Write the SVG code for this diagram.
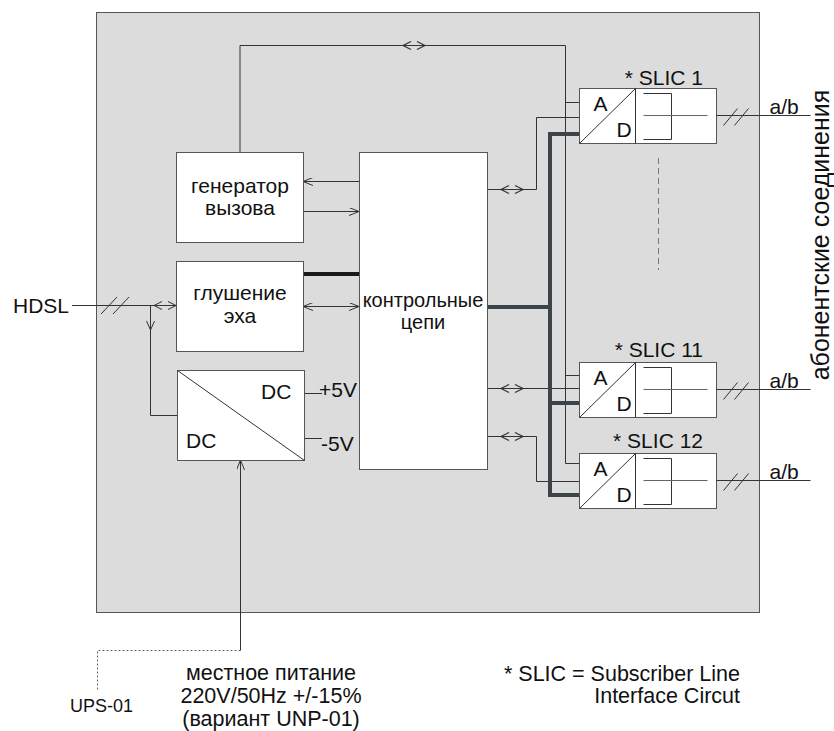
<svg xmlns="http://www.w3.org/2000/svg" xmlns:xlink="http://www.w3.org/1999/xlink" width="834" height="731" viewBox="0 0 834 731">
<style>
.t{font-family:"Liberation Sans",Arial,sans-serif;font-size:21px;fill:#111}
.b{font-size:21.5px}
.box{fill:#fff;stroke:#555;stroke-width:1}
.ln{fill:none;stroke:#333;stroke-width:1}
.gl{fill:none;stroke:#666;stroke-width:1}
.bus{fill:none;stroke:#3d4447;stroke-width:4}
</style>
<defs>
<marker id="ah" viewBox="0 0 10 8" refX="10" refY="4" markerWidth="10" markerHeight="8" markerUnits="userSpaceOnUse" orient="auto-start-reverse"><path d="M0,0 L10,4 L0,8" fill="none" stroke="#333" stroke-width="1"/></marker>
<g id="dbl"><path d="M-3,-4 L-11,0 L-3,4 M3,-4 L11,0 L3,4" fill="none" stroke="#333" stroke-width="1.2"/></g>
<g id="slic">
<rect class="box" x="0" y="0" width="137" height="55"/>
<path class="ln" d="M56,0 V55 M0,55 L56,0"/>
<path class="ln" d="M64,5 H92 V51 H64"/>
<path class="gl" d="M64,27 H128"/>
<path class="ln" d="M137,27 H231 M144,37 L158,20 M155,37 L169,20"/>
<text class="t" x="14" y="22">A</text>
<text class="t" x="37" y="48">D</text>
<text class="t" x="190" y="25">a/b</text>
</g>
</defs>
<rect id="panel" x="96.5" y="12.5" width="663" height="600" fill="#dcdcdc" stroke="#555" stroke-width="1"/>
<g id="connectors">
<path class="ln" d="M240,152 V45.5 H565.5 V463.5 H579"/>
<path class="ln" d="M565.5,102.5 H579 M565.5,375.5 H579"/>
<use xlink:href="#dbl" x="414" y="45.5"/>
<path class="ln" d="M487,189.5 H536.5 V117.5 H579"/>
<use xlink:href="#dbl" x="512" y="189.5"/>
<path class="ln" d="M487,388.5 H579"/>
<use xlink:href="#dbl" x="512" y="388.5"/>
<path class="ln" d="M487,436.5 H536.5 V481.5 H579"/>
<use xlink:href="#dbl" x="512" y="436.5"/>
<path class="bus" d="M579,134 H550 V495 H579 M550,403 H579 M487,307 H550"/>
<path class="ln" d="M359,181.5 H303" marker-end="url(#ah)"/>
<path class="ln" d="M303,211.5 H359" marker-end="url(#ah)"/>
<path d="M303,274 H359" fill="none" stroke="#1a1a1a" stroke-width="4"/>
<path class="ln" d="M303,306.5 H359" marker-start="url(#ah)" marker-end="url(#ah)"/>
<path class="ln" d="M72,305.5 H176 M101,314 L117,297 M113,314 L129,297"/>
<path class="ln" d="M162,301.5 L154,305.5 L162,309.5 M168,301.5 L176,305.5 L168,309.5"/>
<path class="ln" d="M150.5,305.5 V415.5 H177"/>
<path class="ln" d="M146.5,321 L150.5,330 L154.5,321"/>
<path class="ln" d="M304,393.5 H322 M304,438.5 H322"/>
<path class="ln" d="M240.5,650.5 V460" marker-end="url(#ah)"/>
<path d="M240.5,650.5 H97.5 V690" fill="none" stroke="#666" stroke-width="1" stroke-dasharray="2,2"/>
<path d="M658.5,158 V270" fill="none" stroke="#777" stroke-width="1" stroke-dasharray="6,4"/>
</g>
<g id="generator">
<rect class="box" x="176.5" y="152.5" width="127" height="90"/>
<text class="t" x="240" y="193" text-anchor="middle">генератор</text>
<text class="t" x="240" y="215" text-anchor="middle">вызова</text>
</g>
<g id="echo">
<rect class="box" x="176.5" y="261.5" width="127" height="90"/>
<text class="t" x="240" y="300" text-anchor="middle">глушение</text>
<text class="t" x="240" y="323" text-anchor="middle">эха</text>
</g>
<g id="dcdc">
<rect class="box" x="177.5" y="370.5" width="127" height="90"/>
<path class="ln" d="M177.5,370.5 L304.5,460.5"/>
<text class="t" x="261" y="399">DC</text>
<text class="t" x="186" y="448">DC</text>
<text class="t" x="319" y="397">+5V</text>
<text class="t" x="321" y="451">-5V</text>
</g>
<g id="control">
<rect class="box" x="359.5" y="152.5" width="128" height="317"/>
<text class="t" x="423" y="307" text-anchor="middle" style="font-size:20px">контрольные</text>
<text class="t" x="423" y="329" text-anchor="middle" style="font-size:20px">цепи</text>
</g>
<g id="slic1">
<use xlink:href="#slic" x="579.5" y="88.5"/>
<text class="t" x="703" y="85" text-anchor="end">* SLIC 1</text>
</g>
<g id="slic11">
<use xlink:href="#slic" x="579.5" y="362.5"/>
<text class="t" x="703" y="357" text-anchor="end">* SLIC 11</text>
</g>
<g id="slic12">
<use xlink:href="#slic" x="579.5" y="453.5"/>
<text class="t" x="703" y="448" text-anchor="end">* SLIC 12</text>
</g>
<g id="labels">
<text class="t" x="13" y="313">HDSL</text>
<text class="t" transform="translate(829,235) rotate(-90)" text-anchor="middle" style="font-size:25px">абонентские соединения</text>
<text class="t" x="70" y="712" style="font-size:18px">UPS-01</text>
<text class="t b" x="271" y="680" text-anchor="middle">местное питание</text>
<text class="t b" x="271" y="703" text-anchor="middle">220V/50Hz +/-15%</text>
<text class="t b" x="271" y="726" text-anchor="middle">(вариант UNP-01)</text>
<text class="t b" x="740" y="681" text-anchor="end">* SLIC = Subscriber Line</text>
<text class="t b" x="740" y="703" text-anchor="end">Interface Circut</text>
</g>
</svg>
